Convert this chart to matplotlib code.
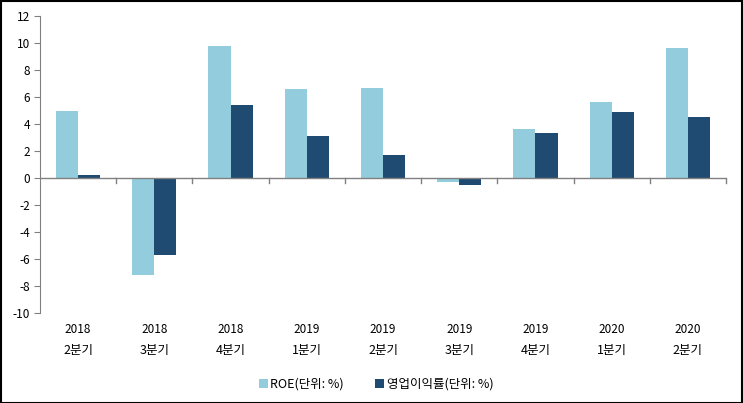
import numpy as np
import matplotlib
matplotlib.use('Agg')
import matplotlib.pyplot as plt
import matplotlib.transforms as mtransforms

plt.rcParams['font.family'] = ['Noto Sans CJK KR', 'DejaVu Sans']
plt.rcParams['axes.unicode_minus'] = False

years = ['2018', '2018', '2018', '2019', '2019', '2019', '2019', '2020', '2020']
quarters = ['2분기', '3분기', '4분기', '1분기', '2분기', '3분기', '4분기', '1분기', '2분기']
roe = [5.0, -7.2, 9.8, 6.6, 6.7, -0.3, 3.6, 5.6, 9.6]
op_margin = [0.2, -5.7, 5.4, 3.1, 1.7, -0.5, 3.3, 4.9, 4.5]

fig = plt.figure(figsize=(7.43, 4.03), dpi=100)
ax = fig.add_axes([40/743, 1-313/403, 686/743, 297/403])

x = np.arange(len(years))
w = 0.29
ax.bar(x - w/2, roe, w, color='#93CDDD', label='ROE(단위: %)')
ax.bar(x + w/2, op_margin, w, color='#1F4B72', label='영업이익률(단위: %)')

ax.set_xlim(-0.5, len(years) - 0.5)
ax.set_ylim(-10, 12)
ax.set_yticks(range(-10, 13, 2))
ax.tick_params(axis='y', labelsize=8.5, color='#808080', length=4, pad=3)

for s in ['top', 'right', 'bottom']:
    ax.spines[s].set_visible(False)
ax.spines['left'].set_color('#808080')

# zero line with category boundary ticks
ax.axhline(0, color='#808080', lw=1)
ax.set_xticks([])
for b in np.arange(-0.5, len(years), 1.0)[1:]:
    ax.plot([b, b], [0, -0.35], color='#808080', lw=1, clip_on=False)

trans = mtransforms.blended_transform_factory(ax.transData, ax.transAxes)
for i in range(len(years)):
    ax.text(i, -0.055, years[i], transform=trans, ha='center', va='center', fontsize=8.5)
    ax.text(i, -0.125, quarters[i], transform=trans, ha='center', va='center', fontsize=9)

ax.legend(loc='upper center', bbox_to_anchor=(0.49, -0.18), ncol=2, frameon=False,
          fontsize=9, handlelength=0.7, handleheight=0.7, handletextpad=0.2, columnspacing=2.5)

fig.patches.append(plt.Rectangle((0.001, 0.001), 0.997, 0.997, transform=fig.transFigure,
                                 fill=False, edgecolor='black', lw=1.5))

fig.savefig('out.png', dpi=100)
